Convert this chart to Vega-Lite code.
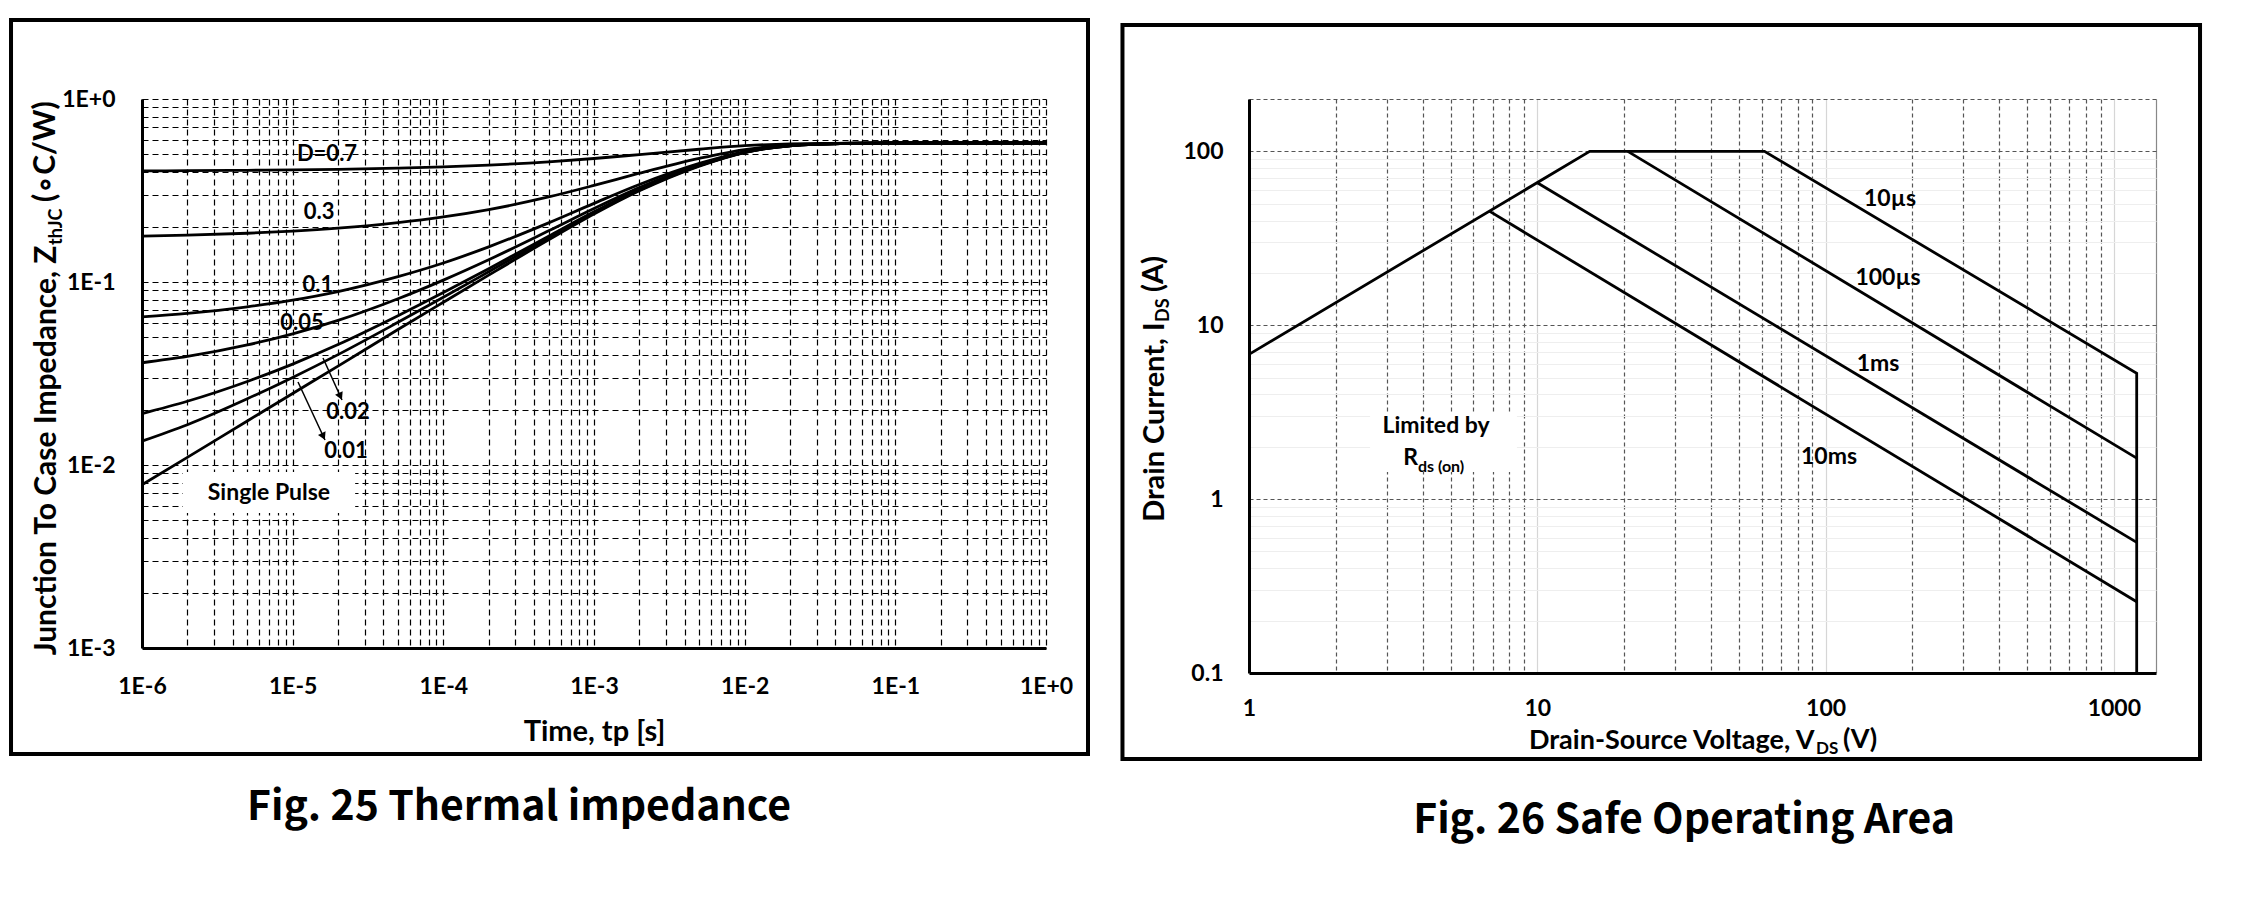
{
  "$schema": "https://vega.github.io/schema/vega-lite/v6.json",
  "background": "white",
  "padding": {"left": 9, "top": 18, "right": 5, "bottom": 5},
  "bounds": "full",
  "spacing": 30,
  "config": {
    "view": {"stroke": null},
    "axis": {
      "labelFont": "Lato", "labelFontWeight": "bold", "labelFontSize": 23, "labelColor": "#000",
      "titleFont": "Lato", "titleFontWeight": "bold", "titleFontSize": 29, "titleColor": "#000",
      "domainColor": "#000", "domainWidth": 3, "ticks": false, "tickSize": 0,
      "labelFlush": false, "labelOverlap": false, "grid": true
    },
    "text": {"font": "Lato", "fontWeight": "bold", "fill": "#000"}
  },
  "datasets": {
    "zth": [
      {"t":1e-6,"z":0.0078,"d":"sp"},{"t":2e-6,"z":0.011,"d":"sp"},{"t":5e-6,"z":0.0174,"d":"sp"},{"t":1e-5,"z":0.0246,"d":"sp"},{"t":2e-5,"z":0.0347,"d":"sp"},{"t":5e-5,"z":0.055,"d":"sp"},{"t":1e-4,"z":0.0775,"d":"sp"},{"t":2e-4,"z":0.109,"d":"sp"},{"t":5e-4,"z":0.17,"d":"sp"},{"t":0.001,"z":0.235,"d":"sp"},{"t":0.002,"z":0.315,"d":"sp"},{"t":0.005,"z":0.43,"d":"sp"},{"t":0.01,"z":0.51,"d":"sp"},{"t":0.02,"z":0.555,"d":"sp"},{"t":0.05,"z":0.572,"d":"sp"},{"t":0.1,"z":0.575,"d":"sp"},{"t":1,"z":0.575,"d":"sp"},
      {"t":1e-6,"z":0.0135,"d":"0.01"},{"t":2e-6,"z":0.0166,"d":"0.01"},{"t":5e-6,"z":0.023,"d":"0.01"},{"t":1e-5,"z":0.0301,"d":"0.01"},{"t":2e-5,"z":0.0401,"d":"0.01"},{"t":5e-5,"z":0.0602,"d":"0.01"},{"t":1e-4,"z":0.0825,"d":"0.01"},{"t":2e-4,"z":0.1137,"d":"0.01"},{"t":5e-4,"z":0.1741,"d":"0.01"},{"t":0.001,"z":0.2384,"d":"0.01"},{"t":0.002,"z":0.3176,"d":"0.01"},{"t":0.005,"z":0.4315,"d":"0.01"},{"t":0.01,"z":0.5107,"d":"0.01"},{"t":0.02,"z":0.555,"d":"0.01"},{"t":0.05,"z":0.572,"d":"0.01"},{"t":0.1,"z":0.575,"d":"0.01"},{"t":1,"z":0.575,"d":"0.01"},
      {"t":1e-6,"z":0.0191,"d":"0.02"},{"t":2e-6,"z":0.0223,"d":"0.02"},{"t":5e-6,"z":0.0286,"d":"0.02"},{"t":1e-5,"z":0.0356,"d":"0.02"},{"t":2e-5,"z":0.0455,"d":"0.02"},{"t":5e-5,"z":0.0654,"d":"0.02"},{"t":1e-4,"z":0.0875,"d":"0.02"},{"t":2e-4,"z":0.1183,"d":"0.02"},{"t":5e-4,"z":0.1781,"d":"0.02"},{"t":0.001,"z":0.2418,"d":"0.02"},{"t":0.002,"z":0.3202,"d":"0.02"},{"t":0.005,"z":0.433,"d":"0.02"},{"t":0.01,"z":0.5113,"d":"0.02"},{"t":0.02,"z":0.555,"d":"0.02"},{"t":0.05,"z":0.572,"d":"0.02"},{"t":0.1,"z":0.575,"d":"0.02"},{"t":1,"z":0.575,"d":"0.02"},
      {"t":1e-6,"z":0.0362,"d":"0.05"},{"t":2e-6,"z":0.0392,"d":"0.05"},{"t":5e-6,"z":0.0453,"d":"0.05"},{"t":1e-5,"z":0.0521,"d":"0.05"},{"t":2e-5,"z":0.0617,"d":"0.05"},{"t":5e-5,"z":0.081,"d":"0.05"},{"t":1e-4,"z":0.1024,"d":"0.05"},{"t":2e-4,"z":0.1323,"d":"0.05"},{"t":5e-4,"z":0.1903,"d":"0.05"},{"t":0.001,"z":0.252,"d":"0.05"},{"t":0.002,"z":0.328,"d":"0.05"},{"t":0.005,"z":0.437,"d":"0.05"},{"t":0.01,"z":0.513,"d":"0.05"},{"t":0.02,"z":0.556,"d":"0.05"},{"t":0.05,"z":0.572,"d":"0.05"},{"t":0.1,"z":0.575,"d":"0.05"},{"t":1,"z":0.575,"d":"0.05"},
      {"t":1e-6,"z":0.0645,"d":"0.1"},{"t":2e-6,"z":0.0674,"d":"0.1"},{"t":5e-6,"z":0.0732,"d":"0.1"},{"t":1e-5,"z":0.0796,"d":"0.1"},{"t":2e-5,"z":0.0887,"d":"0.1"},{"t":5e-5,"z":0.107,"d":"0.1"},{"t":1e-4,"z":0.127,"d":"0.1"},{"t":2e-4,"z":0.1556,"d":"0.1"},{"t":5e-4,"z":0.2105,"d":"0.1"},{"t":0.001,"z":0.269,"d":"0.1"},{"t":0.002,"z":0.341,"d":"0.1"},{"t":0.005,"z":0.4445,"d":"0.1"},{"t":0.01,"z":0.5165,"d":"0.1"},{"t":0.02,"z":0.557,"d":"0.1"},{"t":0.05,"z":0.5723,"d":"0.1"},{"t":0.1,"z":0.575,"d":"0.1"},{"t":1,"z":0.575,"d":"0.1"},
      {"t":1e-6,"z":0.178,"d":"0.3"},{"t":2e-6,"z":0.1802,"d":"0.3"},{"t":5e-6,"z":0.1847,"d":"0.3"},{"t":1e-5,"z":0.1897,"d":"0.3"},{"t":2e-5,"z":0.1968,"d":"0.3"},{"t":5e-5,"z":0.211,"d":"0.3"},{"t":1e-4,"z":0.2268,"d":"0.3"},{"t":2e-4,"z":0.2488,"d":"0.3"},{"t":5e-4,"z":0.2915,"d":"0.3"},{"t":0.001,"z":0.337,"d":"0.3"},{"t":0.002,"z":0.393,"d":"0.3"},{"t":0.005,"z":0.4735,"d":"0.3"},{"t":0.01,"z":0.5295,"d":"0.3"},{"t":0.02,"z":0.561,"d":"0.3"},{"t":0.05,"z":0.573,"d":"0.3"},{"t":0.1,"z":0.575,"d":"0.3"},{"t":1,"z":0.575,"d":"0.3"},
      {"t":1e-6,"z":0.4048,"d":"0.7"},{"t":2e-6,"z":0.4058,"d":"0.7"},{"t":5e-6,"z":0.4077,"d":"0.7"},{"t":1e-5,"z":0.4099,"d":"0.7"},{"t":2e-5,"z":0.4129,"d":"0.7"},{"t":5e-5,"z":0.419,"d":"0.7"},{"t":1e-4,"z":0.4258,"d":"0.7"},{"t":2e-4,"z":0.4352,"d":"0.7"},{"t":5e-4,"z":0.4535,"d":"0.7"},{"t":0.001,"z":0.473,"d":"0.7"},{"t":0.002,"z":0.497,"d":"0.7"},{"t":0.005,"z":0.5315,"d":"0.7"},{"t":0.01,"z":0.5555,"d":"0.7"},{"t":0.02,"z":0.569,"d":"0.7"},{"t":0.05,"z":0.574,"d":"0.7"},{"t":0.1,"z":0.575,"d":"0.7"},{"t":1,"z":0.575,"d":"0.7"}
    ],
    "zlab": [
      {"t":1.69e-5,"z":0.5005,"label":"D=0.7"},
      {"t":1.5e-5,"z":0.2413,"label":"0.3"},
      {"t":1.47e-5,"z":0.0963,"label":"0.1"},
      {"t":1.153e-5,"z":0.0597,"label":"0.05"},
      {"t":2.33e-5,"z":0.0195,"label":"0.02"},
      {"t":2.26e-5,"z":0.01193,"label":"0.01"}
    ],
    "arrows": [
      {"t":1.59e-5,"z":0.03843,"t2":2.125e-5,"z2":0.02265},
      {"t":1.085e-5,"z":0.02842,"t2":1.639e-5,"z2":0.0137}
    ],
    "heads": [
      {"t":2.074e-5,"z":0.02371},
      {"t":1.597e-5,"z":0.01433}
    ],
    "soa": [
      {"v":1,"i":6.8,"s":"env","o":0},{"v":15.2,"i":100,"s":"env","o":1},{"v":61.4,"i":100,"s":"env","o":2},{"v":1200,"i":5.3,"s":"env","o":3},{"v":1200,"i":0.1,"s":"env","o":4},
      {"v":20.6,"i":100,"s":"100us","o":0},{"v":1200,"i":1.72,"s":"100us","o":1},
      {"v":10,"i":66,"s":"1ms","o":0},{"v":1200,"i":0.564,"s":"1ms","o":1},
      {"v":6.82,"i":45.3,"s":"10ms","o":0},{"v":1200,"i":0.257,"s":"10ms","o":1}
    ],
    "slab": [
      {"v":167.3,"i":53.2,"label":"10µs"},
      {"v":164.7,"i":18.69,"label":"100µs"},
      {"v":152,"i":5.98,"label":"1ms"},
      {"v":102.8,"i":1.746,"label":"10ms"},
      {"v":4.455,"i":2.633,"label":"Limited by"}
    ]
  },
  "hconcat": [
    {
      "width": 904,
      "height": 549,
      "encoding": {
        "x": {"field": "t", "type": "quantitative",
          "scale": {"type": "log", "domain": [1e-6, 1], "nice": false},
          "axis": {
            "title": "Time, tp [s]",
            "values": [1e-6,2e-6,3e-6,4e-6,5e-6,6e-6,7e-6,8e-6,9e-6,1e-5,2e-5,3e-5,4e-5,5e-5,6e-5,7e-5,8e-5,9e-5,1e-4,2e-4,3e-4,4e-4,5e-4,6e-4,7e-4,8e-4,9e-4,0.001,0.002,0.003,0.004,0.005,0.006,0.007,0.008,0.009,0.01,0.02,0.03,0.04,0.05,0.06,0.07,0.08,0.09,0.1,0.2,0.3,0.4,0.5,0.6,0.7,0.8,0.9,1],
            "labelExpr": "abs(datum.value / pow(10, round(log(datum.value) / LN10)) - 1) < 1e-6 ? '1E' + (round(log(datum.value) / LN10) >= 0 ? '+' : '') + round(log(datum.value) / LN10) : ''",
            "gridColor": "#000000", "gridDash": [6, 4], "gridWidth": 1.2,
            "labelPadding": 27, "titleY": 83, "titleBaseline": "middle"
          }},
        "y": {"field": "z", "type": "quantitative",
          "scale": {"type": "log", "domain": [0.001, 1], "nice": false},
          "axis": {
            "title": "Junction To Case Impedance, Z",
            "titleFontSize": 30,
            "values": [0.001,0.002,0.003,0.004,0.005,0.006,0.007,0.008,0.009,0.01,0.02,0.03,0.04,0.05,0.06,0.07,0.08,0.09,0.1,0.2,0.3,0.4,0.5,0.6,0.7,0.8,0.9,1],
            "labelExpr": "abs(datum.value / pow(10, round(log(datum.value) / LN10)) - 1) < 1e-6 ? '1E' + (round(log(datum.value) / LN10) >= 0 ? '+' : '') + round(log(datum.value) / LN10) : ''",
            "gridColor": "#000000", "gridDash": [6, 4], "gridWidth": 1.2,
            "labelPadding": 27,
            "titleX": -87, "titleY": 146, "titleAngle": 270, "titleBaseline": "alphabetic", "titleAlign": "right"
          }}
      },
      "layer": [
        {
          "data": {"values": [{"t": 1.351e-7, "t2": 1.9, "z": 2.702, "z2": 0.0002635}]},
          "mark": {"type": "rect", "fillOpacity": 0, "stroke": "#000", "strokeWidth": 4},
          "encoding": {"x2": {"field": "t2"}, "y2": {"field": "z2"}}
        },
        {
          "data": {"values": [{"t": 1.87e-6, "t2": 2.6e-5, "z": 0.00916, "z2": 0.00547}]},
          "mark": {"type": "rect", "fill": "#ffffff", "stroke": null},
          "encoding": {"x2": {"field": "t2"}, "y2": {"field": "z2"}}
        },
        {
          "data": {"name": "zth"},
          "mark": {"type": "line", "interpolate": "monotone", "stroke": "#000", "strokeWidth": 2.8},
          "encoding": {"detail": {"field": "d"}}
        },
        {
          "data": {"name": "arrows"},
          "mark": {"type": "rule", "stroke": "#000", "strokeWidth": 1.5},
          "encoding": {"x2": {"field": "t2"}, "y2": {"field": "z2"}}
        },
        {
          "data": {"name": "heads"},
          "mark": {"type": "point", "shape": "triangle-up", "filled": true, "fill": "#000", "stroke": null, "size": 70, "angle": 155, "opacity": 1}
        },
        {
          "data": {"name": "zlab"},
          "mark": {"type": "text", "fontSize": 22, "align": "center", "baseline": "middle"},
          "encoding": {"text": {"field": "label"}}
        },
        {
          "data": {"values": [{"t": 6.96e-6, "z": 0.00703, "label": "Single Pulse"}]},
          "mark": {"type": "text", "fontSize": 23, "align": "center", "baseline": "middle"},
          "encoding": {"text": {"field": "label"}}
        },
        {
          "data": {"values": [{"t": 2.944e-7, "z": 0.1593, "label": "thJC"}]},
          "mark": {"type": "text", "fontSize": 18, "angle": 270, "align": "left", "baseline": "alphabetic"},
          "encoding": {"text": {"field": "label"}}
        },
        {
          "data": {"values": [{"t": 2.647e-7, "z": 0.2736, "label": "(∘C/W)"}]},
          "mark": {"type": "text", "fontSize": 30, "angle": 270, "align": "left", "baseline": "alphabetic"},
          "encoding": {"text": {"field": "label"}}
        },
        {
          "data": {"values": [{"t": 3.178e-4, "z": 1.3355e-4, "label": "Fig. 25 Thermal impedance"}]},
          "mark": {"type": "text", "font": "Noto Sans CJK SC", "fontWeight": 600, "fontSize": 41, "align": "center", "baseline": "middle"},
          "encoding": {"text": {"field": "label"}}
        }
      ]
    },
    {
      "width": 907,
      "height": 574,
      "encoding": {
        "x": {"field": "v", "type": "quantitative",
          "scale": {"type": "log", "domain": [1, 1400], "nice": false},
          "axis": {
            "title": "Drain-Source Voltage, V",
            "titleFontSize": 27,
            "values": [1,2,3,4,5,6,7,8,9,10,20,30,40,50,60,70,80,90,100,200,300,400,500,600,700,800,900,1000,1400],
            "labelExpr": "indexof([1,10,100,1000], datum.value) >= 0 ? '' + datum.value : ''",
            "gridColor": {"condition": [{"test": "indexof([10,100,1000], datum.value) >= 0", "value": "#d6d6d6"}, {"test": "datum.value == 1400", "value": "#888888"}], "value": "#555555"},
            "gridDash": {"condition": {"test": "indexof([10,100,1000,1400], datum.value) >= 0", "value": []}, "value": [4, 3]},
            "gridWidth": 1.2,
            "labelPadding": 24,
            "titleX": 565, "titleY": 75, "titleAlign": "right", "titleBaseline": "alphabetic"
          }},
        "y": {"field": "i", "type": "quantitative",
          "scale": {"type": "log", "domain": [0.1, 200], "nice": false},
          "axis": {
            "title": "Drain Current, I",
            "values": [0.1,0.2,0.3,0.4,0.5,0.6,0.7,0.8,0.9,1,2,3,4,5,6,7,8,9,10,20,30,40,50,60,70,80,90,100,200],
            "labelExpr": "indexof([0.1,1,10,100], datum.value) >= 0 ? '' + datum.value : ''",
            "gridColor": {"condition": {"test": "indexof([1,10,100,200], datum.value) >= 0", "value": "#555555"}, "value": "#eeeeee"},
            "gridDash": {"condition": {"test": "indexof([1,10,100,200], datum.value) >= 0", "value": [4, 3]}, "value": []},
            "gridWidth": 1.2,
            "labelPadding": 26,
            "titleX": -86, "titleY": 223, "titleAngle": 270, "titleBaseline": "alphabetic", "titleAlign": "right"
          }}
      },
      "layer": [
        {
          "data": {"values": [{"v": 0.364, "v2": 1990, "i": 532.9, "i2": 0.03201}]},
          "mark": {"type": "rect", "fillOpacity": 0, "stroke": "#000", "strokeWidth": 4},
          "encoding": {"x2": {"field": "v2"}, "y2": {"field": "i2"}}
        },
        {
          "data": {"values": [{"v": 2.63, "v2": 8.5, "i": 3.086, "i2": 1.432}]},
          "mark": {"type": "rect", "fill": "#ffffff", "stroke": null},
          "encoding": {"x2": {"field": "v2"}, "y2": {"field": "i2"}}
        },
        {
          "data": {"name": "soa"},
          "mark": {"type": "line", "stroke": "#000", "strokeWidth": 2.8},
          "encoding": {"detail": {"field": "s"}, "order": {"field": "o", "type": "quantitative"}}
        },
        {
          "data": {"name": "slab"},
          "mark": {"type": "text", "fontSize": 23, "align": "center", "baseline": "middle"},
          "encoding": {"text": {"field": "label"}}
        },
        {
          "data": {"values": [{"v": 3.857, "i": 1.723, "label": "R"}]},
          "mark": {"type": "text", "fontSize": 23, "align": "right", "baseline": "middle"},
          "encoding": {"text": {"field": "label"}}
        },
        {
          "data": {"values": [{"v": 3.857, "i": 1.723, "label": "ds (on)"}]},
          "mark": {"type": "text", "fontSize": 16, "align": "left", "baseline": "middle", "dy": 9},
          "encoding": {"text": {"field": "label"}}
        },
        {
          "data": {"values": [{"v": 92.64, "i": 0.0342, "label": "DS"}]},
          "mark": {"type": "text", "fontSize": 17, "align": "left", "baseline": "alphabetic"},
          "encoding": {"text": {"field": "label"}}
        },
        {
          "data": {"values": [{"v": 114.9, "i": 0.03702, "label": "(V)"}]},
          "mark": {"type": "text", "fontSize": 27, "align": "left", "baseline": "alphabetic"},
          "encoding": {"text": {"field": "label"}}
        },
        {
          "data": {"values": [{"v": 0.5279, "i": 10.44, "label": "DS"}]},
          "mark": {"type": "text", "fontSize": 18, "angle": 270, "align": "left", "baseline": "alphabetic"},
          "encoding": {"text": {"field": "label"}}
        },
        {
          "data": {"values": [{"v": 0.5031, "i": 15.53, "label": "(A)"}]},
          "mark": {"type": "text", "fontSize": 29, "angle": 270, "align": "left", "baseline": "alphabetic"},
          "encoding": {"text": {"field": "label"}}
        },
        {
          "data": {"values": [{"v": 32.28, "i": 0.01409, "label": "Fig. 26 Safe Operating Area"}]},
          "mark": {"type": "text", "font": "Noto Sans CJK SC", "fontWeight": 600, "fontSize": 41, "align": "center", "baseline": "middle"},
          "encoding": {"text": {"field": "label"}}
        }
      ]
    }
  ]
}
